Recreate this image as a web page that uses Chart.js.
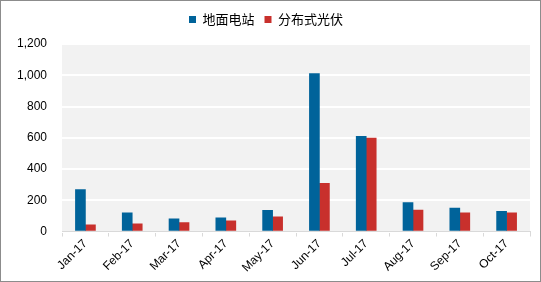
<!DOCTYPE html>
<html><head><meta charset="utf-8">
<script src="https://cdn.jsdelivr.net/npm/chart.js@4"></script>
<style>
html,body{margin:0;padding:0;background:#fff;}
#wrap{width:539px;height:280px;border:1px solid #8c8c8c;position:relative;}
</style></head>
<body><div id="wrap"><canvas id="c" width="539" height="280"></canvas></div>
<script>
const categories = ["Jan-17","Feb-17","Mar-17","Apr-17","May-17","Jun-17","Jul-17","Aug-17","Sep-17","Oct-17"];
const groundStation = [269,120,81,88,135,1011,609,186,150,130];
const distributedPV = [43,49,58,69,94,308,598,137,120,120];
const seriesNames = ["地面电站","分布式光伏"];
const yTicks = [0,200,400,600,800,1000,1200];

const bgPlugin = {
  id:'bg',
  beforeDraw(chart){
    const {ctx, chartArea:a} = chart;
    ctx.save();
    ctx.fillStyle = '#f2f2f2';
    ctx.fillRect(a.left, a.top - 1, a.right - a.left, a.bottom - a.top + 1);
    ctx.restore();
  }
};
const legendGap = {
  id:'legendGap',
  beforeInit(chart){
    const orig = chart.legend.fit;
    chart.legend.fit = function(){ orig.bind(chart.legend)(); this.height += 8; };
  }
};

new Chart(document.getElementById('c'), {
  type:'bar',
  data:{
    labels:categories,
    datasets:[
      {label:seriesNames[0], data:groundStation, backgroundColor:'#00639a', barThickness:10, categoryPercentage:0.56},
      {label:seriesNames[1], data:distributedPV, backgroundColor:'#c8302c', barThickness:10, categoryPercentage:0.56}
    ]
  },
  options:{
    responsive:false,
    animation:false,
    layout:{padding:{left:1, right:10, top:2, bottom:6}},
    plugins:{
      legend:{
        position:'top',
        labels:{boxWidth:7, boxHeight:7, color:'#000', padding:10,
          font:{family:'"Noto Sans CJK SC", "Liberation Sans", Arial', size:13}}
      },
      tooltip:{enabled:false}
    },
    scales:{
      x:{
        grid:{display:true, drawOnChartArea:false, color:'#d9d9d9', tickLength:5, offset:true},
        border:{display:true, color:'#d9d9d9', width:1},
        ticks:{color:'#000', maxRotation:45, minRotation:45, padding:0,
          font:{family:'"Liberation Sans", Arial', size:12}}
      },
      y:{
        min:0, max:1200,
        afterBuildTicks(axis){ axis.ticks = yTicks.map(v=>({value:v})); },
        grid:{color:'#ffffff', lineWidth:2, drawTicks:false},
        border:{display:false},
        ticks:{color:'#000', padding:15,
          font:{family:'"Liberation Sans", Arial', size:12},
          callback:v=>v.toLocaleString('en-US')}
      }
    }
  },
  plugins:[bgPlugin, legendGap]
});
</script></body></html>
